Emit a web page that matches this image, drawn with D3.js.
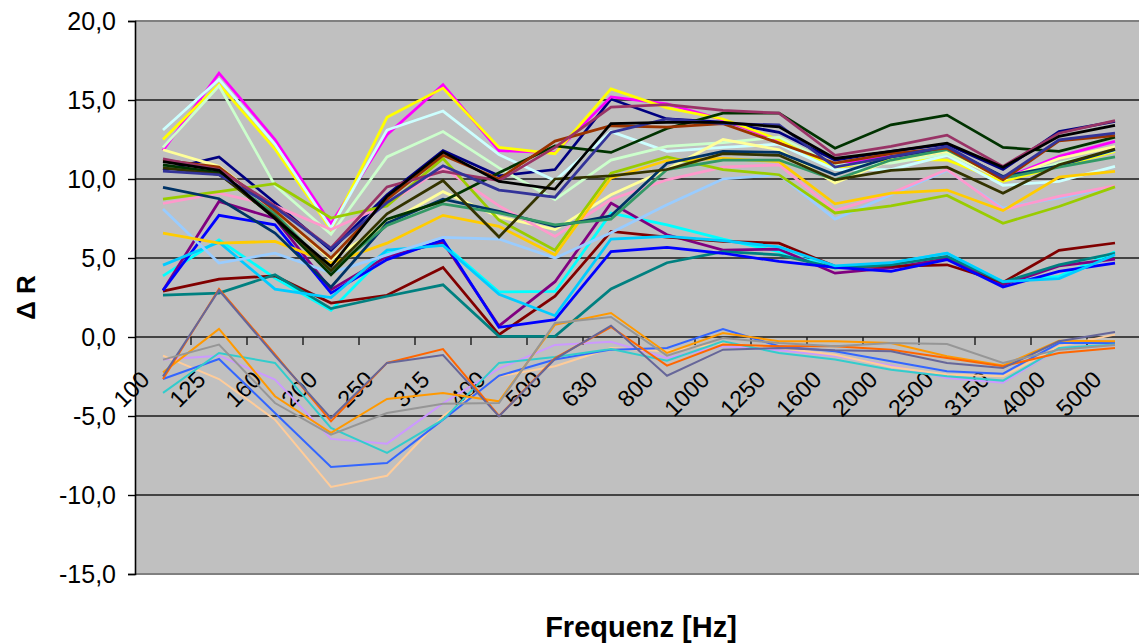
<!DOCTYPE html>
<html>
<head>
<meta charset="utf-8">
<script src="https://cdn.jsdelivr.net/npm/d3@7"></script>
<style>
  body { margin: 0; background: #fff; }
  svg { display: block; }
  text { font-family: "Liberation Sans", Arial, sans-serif; fill: #000; }
</style>
</head>
<body>
<svg id="chart" width="1139" height="644"></svg>
<script>
// Terzband-Mittenfrequenzen (Hz)
const freqs = ["100","125","160","200","250","315","400","500","630","800","1000","1250","1600","2000","2500","3150","4000","5000"];
const yTicks = [-15, -10, -5, 0, 5, 10, 15, 20];

// Messkurven ΔR je Terzband (dB)
const navy        = [10.55, 11.4, 8.5, 5.48, 9.0, 11.8, 10.2, 10.6, 15.06, 13.8, 13.6, 12.95, 11.2, 11.75, 12.2, 10.6, 13.0, 13.64];
const magenta     = [11.8, 16.7, 12.5, 7.17, 12.8, 15.96, 11.8, 11.65, 15.2, 14.75, 13.75, 12.4, 10.9, 11.43, 11.65, 10.0, 11.43, 12.38];
const yellow      = [12.5, 16.0, 11.9, 6.8, 13.9, 15.75, 12.0, 11.6, 15.7, 14.5, 13.8, 12.49, 10.7, 11.26, 11.2, 9.85, 10.8, 11.75];
const cyan        = [3.87, 6.15, 3.73, 1.69, 5.3, 5.9, 2.85, 2.88, 7.84, 7.1, 6.2, 5.4, 4.36, 4.68, 5.3, 3.5, 3.84, 5.4];
const purple      = [2.95, 8.58, 7.5, 3.0, 5.1, 6.0, 0.7, 3.5, 8.47, 6.47, 5.5, 5.56, 4.04, 4.37, 4.95, 3.3, 4.5, 4.93];
const darkRed     = [2.9, 3.66, 3.87, 2.15, 2.64, 4.4, 0.15, 2.58, 6.68, 6.32, 6.05, 5.94, 4.47, 4.47, 4.57, 3.46, 5.48, 5.95];
const teal        = [2.65, 2.78, 3.94, 1.8, 2.58, 3.3, 0.04, 0.04, 3.04, 4.7, 5.4, 5.2, 4.37, 4.57, 5.1, 3.46, 4.57, 5.3];
const blue        = [2.95, 7.7, 7.1, 2.78, 4.9, 6.15, 0.61, 1.1, 5.4, 5.67, 5.3, 4.78, 4.4, 4.15, 4.9, 3.16, 4.15, 4.68];
const skyBlue     = [4.55, 6.0, 3.03, 2.5, 5.5, 5.8, 2.7, 1.35, 6.2, 6.37, 6.1, 5.7, 4.5, 4.7, 5.3, 3.5, 3.7, 5.2];
const paleTurq    = [13.1, 16.3, 12.2, 6.9, 13.1, 14.3, 11.54, 9.9, 13.0, 11.75, 12.0, 12.2, 10.6, 10.6, 11.5, 9.6, 9.85, 10.8];
const paleGreen   = [12.0, 15.9, 9.6, 6.5, 11.4, 13.0, 10.7, 8.7, 11.2, 12.06, 12.3, 12.65, 10.9, 11.0, 11.6, 10.0, 11.0, 11.8];
const paleYellow  = [11.85, 10.8, 8.0, 4.9, 7.2, 9.2, 7.6, 6.8, 9.0, 10.6, 12.5, 11.85, 9.75, 11.2, 11.75, 9.95, 11.3, 12.05];
const paleBlue    = [8.1, 4.68, 5.3, 4.06, 5.2, 6.3, 6.2, 5.0, 6.6, 8.37, 10.0, 10.27, 7.46, 9.0, 10.54, 8.16, 8.8, 9.53];
const rose        = [8.45, 9.1, 8.3, 6.8, 8.4, 10.7, 8.3, 6.37, 8.7, 9.95, 10.75, 10.9, 8.0, 9.1, 10.6, 8.05, 8.9, 9.57];
const lavender    = [-1.43, -1.18, -2.7, -6.45, -6.75, -4.2, -2.0, -0.5, -0.3, -1.33, -0.59, -0.84, -1.2, -1.8, -2.6, -2.9, -0.7, -0.5];
const tan         = [-1.18, -2.66, -5.23, -9.49, -8.78, -5.02, -2.49, -1.85, -0.7, -0.9, -0.38, -0.7, -1.12, -1.9, -2.38, -2.49, -0.59, 0.15];
const lightBlue   = [-2.66, -1.39, -4.81, -8.23, -7.97, -5.23, -2.45, -1.43, -0.8, -0.7, 0.51, -0.59, -0.9, -1.54, -2.17, -2.32, -0.38, -0.38];
const aqua        = [-3.54, -1.01, -1.64, -5.76, -7.34, -5.23, -1.64, -1.26, -0.76, -1.5, -0.27, -1.01, -1.43, -2.07, -2.49, -2.76, -0.7, -0.48];
const lime        = [8.73, 9.2, 9.7, 7.53, 8.3, 11.3, 7.4, 5.5, 10.37, 11.4, 10.6, 10.27, 7.85, 8.3, 8.96, 7.2, 8.26, 9.5];
const gold        = [6.58, 5.94, 6.05, 4.68, 5.94, 7.7, 7.0, 5.2, 10.06, 11.17, 11.3, 11.1, 8.43, 9.1, 9.3, 8.0, 10.12, 10.48];
const lightOrange = [-2.24, 0.51, -3.75, -6.07, -3.92, -3.54, -4.07, 0.78, 1.52, -1.01, 0.25, -0.27, -0.27, -0.38, -1.22, -1.81, -0.23, -0.27];
const orange      = [-2.66, 3.04, -1.1, -5.34, -1.64, -0.76, -5.0, -1.33, 0.63, -1.81, -0.48, -0.59, -0.59, -0.8, -1.33, -1.85, -1.01, -0.7];
const blueGray    = [-2.49, 2.96, -1.2, -5.13, -1.64, -1.14, -5.02, -1.4, 0.72, -2.45, -0.8, -0.7, -0.84, -0.9, -1.64, -1.96, -0.27, 0.32];
const gray        = [-1.43, -0.48, -4.18, -6.18, -4.81, -4.22, -4.18, 0.89, 1.27, -1.18, -0.06, -0.38, -0.59, -0.38, -0.45, -1.64, -0.8, -0.5];
const darkTeal    = [9.47, 8.75, 6.58, 3.15, 7.2, 8.73, 7.95, 7.0, 7.67, 11.0, 11.75, 11.68, 10.27, 11.4, 11.95, 10.16, 10.84, 11.85];
const seaGreen    = [10.8, 10.3, 7.8, 4.2, 7.06, 8.43, 7.85, 7.1, 7.46, 10.6, 11.2, 11.2, 9.95, 11.2, 11.85, 10.05, 10.75, 11.4];
const darkGreen   = [10.9, 10.4, 7.5, 3.94, 7.46, 8.6, 10.4, 12.1, 11.68, 13.2, 14.17, 14.17, 11.95, 13.43, 14.04, 12.0, 11.75, 12.65];
const olive       = [10.7, 10.3, 7.6, 4.2, 7.8, 9.9, 6.33, 10.0, 10.2, 10.6, 11.6, 11.5, 9.95, 10.54, 10.75, 9.1, 10.9, 11.9];
const brown       = [11.2, 10.75, 8.0, 5.0, 8.7, 11.5, 10.0, 12.4, 13.37, 13.28, 13.5, 12.27, 11.0, 11.6, 11.95, 9.95, 12.42, 12.74];
const plum        = [11.27, 10.6, 8.3, 5.63, 9.5, 10.48, 9.9, 12.0, 14.55, 14.7, 14.34, 14.17, 11.5, 12.06, 12.78, 10.8, 12.9, 13.7];
const indigo      = [10.5, 10.27, 8.2, 5.6, 8.5, 10.84, 9.3, 8.85, 12.95, 13.8, 13.5, 13.43, 10.75, 11.4, 12.06, 10.1, 12.48, 12.9];
const black       = [11.1, 10.55, 7.5, 4.47, 8.9, 11.7, 9.85, 9.36, 13.5, 13.58, 13.58, 13.3, 11.3, 11.75, 12.27, 10.75, 12.7, 13.4];

// Zeichenreihenfolge, Farben und Linienstärken der Kurven
const seriesValues = [navy, magenta, yellow, cyan, purple, darkRed, teal, blue, skyBlue,
  paleTurq, paleGreen, paleYellow, paleBlue, rose, lavender, tan, lightBlue, aqua, lime, gold,
  lightOrange, orange, blueGray, gray, darkTeal, seaGreen, darkGreen, olive, brown, plum, indigo, black];
const seriesColors = ["#000080", "#FF00FF", "#FFFF00", "#00FFFF", "#800080", "#800000", "#008080", "#0000FF", "#00CCFF",
  "#CCFFFF", "#CCFFCC", "#FFFF99", "#99CCFF", "#FF99CC", "#CC99FF", "#FFCC99", "#3366FF", "#33CCCC", "#99CC00", "#FFCC00",
  "#FF9900", "#FF6600", "#666699", "#969696", "#003366", "#339966", "#003300", "#333300", "#993300", "#993366", "#333399", "#000000"];
const thinSeries = new Set([lavender, tan, lightBlue, aqua, lightOrange, orange, blueGray, gray]);

const svg = d3.select("#chart");
const plot = { left: 135, top: 21, right: 1143, bottom: 574 };

const x = d3.scaleBand().domain(freqs).range([plot.left, plot.right]).padding(0);
const y = d3.scaleLinear().domain([-15, 20]).range([plot.bottom, plot.top]);
const cx = f => x(f) + x.bandwidth() / 2;

// Zeichenfläche
svg.append("rect")
  .attr("x", plot.left).attr("y", plot.top)
  .attr("width", plot.right - plot.left).attr("height", plot.bottom - plot.top)
  .attr("fill", "#C0C0C0");

// Gitternetzlinien
svg.append("g").selectAll("line")
  .data(yTicks.filter(t => t > -15 && t < 20))
  .join("line")
  .attr("x1", plot.left).attr("x2", plot.right)
  .attr("y1", d => y(d)).attr("y2", d => y(d))
  .attr("stroke", "#1a1a1a").attr("stroke-width", 1.4);

// Rahmen oben und unten
svg.append("line").attr("x1", plot.left).attr("x2", plot.right)
  .attr("y1", plot.top).attr("y2", plot.top).attr("stroke", "#808080").attr("stroke-width", 2);
svg.append("line").attr("x1", plot.left).attr("x2", plot.right)
  .attr("y1", plot.bottom).attr("y2", plot.bottom).attr("stroke", "#808080").attr("stroke-width", 2);

// Y-Achse
const yAxis = svg.append("g")
  .attr("transform", `translate(${plot.left},0)`)
  .call(d3.axisLeft(y).tickValues(yTicks).tickSize(7).tickPadding(12)
    .tickFormat(d => d.toFixed(1).replace(".", ",")));
yAxis.select(".domain").attr("stroke", "#000").attr("stroke-width", 1.6);
yAxis.selectAll(".tick line").attr("stroke", "#000").attr("stroke-width", 1.4);
yAxis.selectAll(".tick text")
  .style("font-family", '"Liberation Sans", Arial, sans-serif')
  .style("font-size", "25px").attr("fill", "#000");

// X-Achse auf der Nulllinie mit Teilstrichen zwischen den Terzbändern
const y0 = y(0);
svg.append("g").selectAll("line")
  .data(freqs.slice(1))
  .join("line")
  .attr("x1", d => x(d)).attr("x2", d => x(d))
  .attr("y1", y0).attr("y2", y0 + 8)
  .attr("stroke", "#1a1a1a").attr("stroke-width", 1.4);

svg.append("g").selectAll("text")
  .data(freqs)
  .join("text")
  .attr("transform", d => `translate(${cx(d) - 12},${y0 + 44}) rotate(-45)`)
  .attr("text-anchor", "end")
  .style("font-size", "23.5px")
  .text(d => d);

// Kurven
const line = d3.line()
  .x((d, i) => cx(freqs[i]))
  .y(d => y(d));

svg.append("g").selectAll("path")
  .data(seriesValues)
  .join("path")
  .attr("d", d => line(d))
  .attr("fill", "none")
  .attr("stroke", (d, i) => seriesColors[i])
  .attr("stroke-width", d => thinSeries.has(d) ? 2 : 2.75)
  .attr("stroke-linejoin", "miter");

// Achsentitel
svg.append("text")
  .attr("transform", `translate(35,${(plot.top + plot.bottom) / 2}) rotate(-90)`)
  .attr("text-anchor", "middle")
  .style("font-size", "26px").style("font-weight", "bold")
  .text("Δ R");

svg.append("text")
  .attr("x", 641).attr("y", 637)
  .attr("text-anchor", "middle")
  .style("font-size", "29px").style("font-weight", "bold")
  .text("Frequenz [Hz]");
</script>
</body>
</html>
